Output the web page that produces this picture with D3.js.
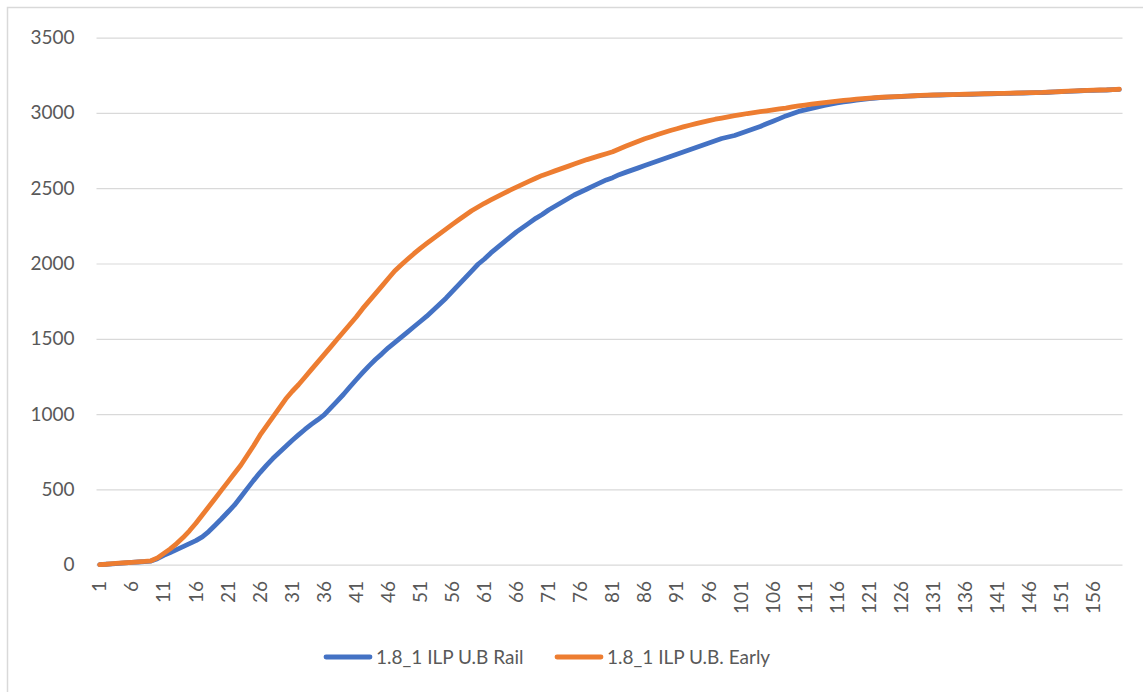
<!DOCTYPE html>
<html>
<head>
<meta charset="utf-8">
<script src="https://cdn.jsdelivr.net/npm/d3@7"></script>
<style>
  body { margin: 0; background: #fff; }
  svg text { font-family: Lato, "Open Sans", sans-serif; fill: #595959; }
</style>
</head>
<body>
<div id="chart"></div>
<script>
const categories = d3.range(1, 161);
const yTicks = [0, 500, 1000, 1500, 2000, 2500, 3000, 3500];

const railValues = [
  0, 3, 6, 9, 12, 15, 18, 21, 24, 40,
  62, 80, 100, 120, 140, 160, 185, 220, 262, 305,
  350, 395, 450, 505, 560, 612, 660, 705, 745, 785,
  825, 862, 898, 932, 962, 995, 1040, 1085, 1130, 1180,
  1228, 1275, 1320, 1362, 1400, 1440, 1475, 1510, 1545, 1580,
  1615, 1650, 1690, 1730, 1770, 1815, 1860, 1905, 1950, 1995,
  2030, 2070, 2105, 2140, 2175, 2210, 2240, 2270, 2300, 2325,
  2355, 2380, 2405, 2430, 2455, 2475, 2495, 2515, 2535, 2555,
  2570, 2590, 2605, 2620, 2635, 2650, 2665, 2680, 2695, 2710,
  2725, 2740, 2755, 2770, 2785, 2800, 2815, 2830, 2840, 2850,
  2865, 2880, 2895, 2910, 2928, 2945, 2962, 2980, 2995, 3010,
  3020, 3030, 3040, 3050, 3058, 3066, 3073, 3079, 3085, 3090,
  3095, 3099, 3103, 3105, 3107, 3109, 3111, 3113, 3115, 3117,
  3118, 3119, 3120, 3121, 3122, 3123, 3124, 3125, 3126, 3127,
  3128, 3129, 3130, 3131, 3132, 3133, 3134, 3135, 3137, 3139,
  3141, 3143, 3145, 3147, 3149, 3150, 3151, 3152, 3154, 3156
];

const earlyValues = [
  0, 3, 7, 10, 13, 16, 19, 22, 26, 45,
  75, 105, 140, 180, 225, 275, 330, 385, 440, 495,
  550, 605, 660, 725, 790, 860, 920, 980, 1040, 1100,
  1150, 1195, 1245, 1295, 1345, 1395, 1445, 1495, 1545, 1595,
  1645, 1700, 1750, 1800, 1850, 1900, 1950, 1990, 2028, 2065,
  2100, 2133, 2165, 2197, 2228, 2260, 2290, 2320, 2350, 2375,
  2400, 2422, 2444, 2465, 2487, 2507, 2527, 2547, 2566, 2585,
  2600, 2615, 2630, 2645, 2660, 2675, 2690, 2703, 2716, 2729,
  2742, 2760, 2778, 2795, 2812, 2828, 2842, 2856, 2870, 2883,
  2895, 2907, 2918, 2929, 2939, 2949, 2958, 2966, 2974, 2982,
  2989, 2996, 3002, 3008, 3014, 3020, 3026, 3032, 3040, 3046,
  3052, 3058, 3063, 3068, 3073, 3078, 3083, 3087, 3091, 3095,
  3098, 3101, 3104, 3106, 3108, 3110, 3112, 3114, 3116, 3118,
  3119, 3120, 3121, 3122, 3123, 3124, 3125, 3126, 3127, 3128,
  3129, 3130, 3131, 3132, 3133, 3134, 3135, 3136, 3138, 3140,
  3142, 3144, 3146, 3148, 3150, 3151, 3152, 3153, 3155, 3157
];

const seriesNames = ["1.8_1 ILP U.B Rail", "1.8_1 ILP U.B. Early"];
const seriesColors = ["#4472C4", "#ED7D31"];

const width = 1143;
const height = 692;
const plot = { left: 96.5, right: 1122.5, top: 37.6, bottom: 564.7 };

const svg = d3.select("#chart")
  .append("svg")
  .attr("width", width)
  .attr("height", height);

// chart frame (runs off the right and bottom edge in the original)
svg.append("rect")
  .attr("x", 7.5)
  .attr("y", 7.5)
  .attr("width", width + 20)
  .attr("height", height + 20)
  .attr("fill", "#fff")
  .attr("stroke", "#d9d9d9")
  .attr("stroke-width", 1.5);

const x = d3.scaleBand()
  .domain(categories)
  .range([plot.left, plot.right]);

const y = d3.scaleLinear()
  .domain([0, 3500])
  .range([plot.bottom, plot.top]);

// gridlines + y labels
const yAxis = svg.append("g")
  .attr("transform", `translate(${plot.left},0)`)
  .call(d3.axisLeft(y)
    .tickValues(yTicks)
    .tickSize(-(plot.right - plot.left))
    .tickPadding(22)
    .tickFormat(d3.format("d")));

yAxis.select(".domain").remove();
yAxis.selectAll(".tick line")
  .attr("stroke", "#d9d9d9")
  .attr("stroke-width", 1.2);
yAxis.selectAll(".tick text")
  .style("font-size", "19px");

// x labels, rotated, every 5th category
const xLabels = categories.filter((d, i) => i % 5 === 0);

svg.append("g")
  .selectAll("text")
  .data(xLabels)
  .join("text")
  .attr("transform", d => `translate(${x(d) + x.bandwidth() / 2},581) rotate(-90)`)
  .attr("text-anchor", "end")
  .attr("dy", "0.35em")
  .style("font-size", "19px")
  .text(d => d);

const line = d3.line()
  .x((d, i) => x(categories[i]) + x.bandwidth() / 2)
  .y(d => y(d));

[railValues, earlyValues].forEach((values, k) => {
  svg.append("path")
    .datum(values)
    .attr("fill", "none")
    .attr("stroke", seriesColors[k])
    .attr("stroke-width", 4.8)
    .attr("stroke-linejoin", "round")
    .attr("stroke-linecap", "round")
    .attr("d", line);
});

// legend
const legendX = [326, 557];
const legend = svg.append("g");

seriesNames.forEach((name, k) => {
  legend.append("line")
    .attr("x1", legendX[k])
    .attr("x2", legendX[k] + 44)
    .attr("y1", 657)
    .attr("y2", 657)
    .attr("stroke", seriesColors[k])
    .attr("stroke-width", 4.8)
    .attr("stroke-linecap", "round");

  legend.append("text")
    .attr("x", legendX[k] + 50)
    .attr("y", 657)
    .attr("dy", "0.35em")
    .style("font-size", "19px")
    .text(name);
});
</script>
</body>
</html>
